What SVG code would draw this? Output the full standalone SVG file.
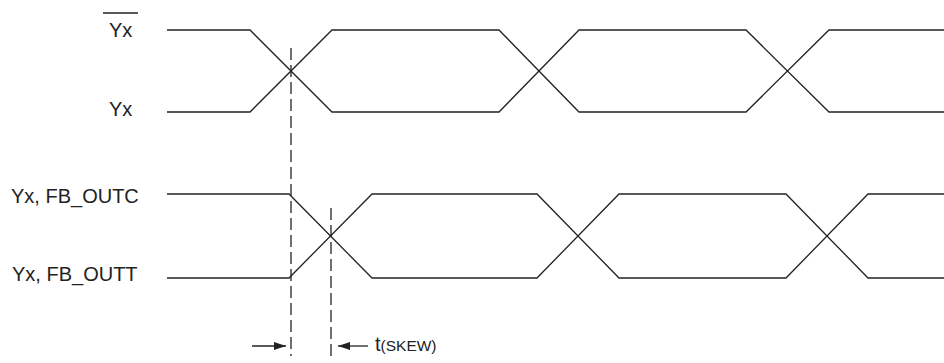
<svg xmlns="http://www.w3.org/2000/svg" width="944" height="363" viewBox="0 0 944 363">
<style>
.sig{fill:none;stroke:#222;stroke-width:1.3;stroke-linejoin:miter}
.dash{fill:none;stroke:#222;stroke-width:1.3;stroke-dasharray:12 5}
.arr{fill:none;stroke:#222;stroke-width:1.3}
.lbl{font-family:"Liberation Sans",Arial,sans-serif;font-size:20px;fill:#222}
</style>
<defs>
<marker id="ah" viewBox="0 0 12 8" refX="12" refY="4" markerWidth="12" markerHeight="8" markerUnits="userSpaceOnUse" orient="auto">
<path d="M0,0 L12,4 L0,8 Z" fill="#222"/>
</marker>
</defs>
<rect width="944" height="363" fill="#fff"/>
<g id="label-yx-bar">
<line x1="103" y1="13" x2="138" y2="13" stroke="#222" stroke-width="1.3"/>
<text class="lbl" x="109" y="37">Yx</text>
</g>
<g id="label-yx"><text class="lbl" x="109" y="116">Yx</text></g>
<g id="label-outc"><text class="lbl" x="11" y="203">Yx, FB_OUTC</text></g>
<g id="label-outt"><text class="lbl" x="12" y="281">Yx, FB_OUTT</text></g>
<g id="signals">
<path id="sig-yx-bar" class="sig" d="M167,30 L250,30 L332,112 L499,112 L579,30 L746,30 L829,112 L944,112"/>
<path id="sig-yx" class="sig" d="M167,112 L250,112 L332,30 L499,30 L579,112 L746,112 L829,30 L944,30"/>
<path id="sig-outc" class="sig" d="M167,194 L289,194 L372,278 L537,278 L619,194 L786,194 L868,278 L944,278"/>
<path id="sig-outt" class="sig" d="M167,278 L289,278 L372,194 L537,194 L619,278 L786,278 L868,194 L944,194"/>
</g>
<g id="connectors">
<line class="dash" x1="291" y1="48" x2="291" y2="356"/>
<line class="dash" x1="331" y1="208" x2="331" y2="356"/>
<line class="arr" x1="252" y1="346" x2="286" y2="346" marker-end="url(#ah)"/>
<line class="arr" x1="368" y1="346" x2="338" y2="346" marker-end="url(#ah)"/>
</g>
<g id="label-tskew"><text class="lbl" x="375" y="351">t<tspan font-size="15.5">(SKEW)</tspan></text></g>
</svg>
